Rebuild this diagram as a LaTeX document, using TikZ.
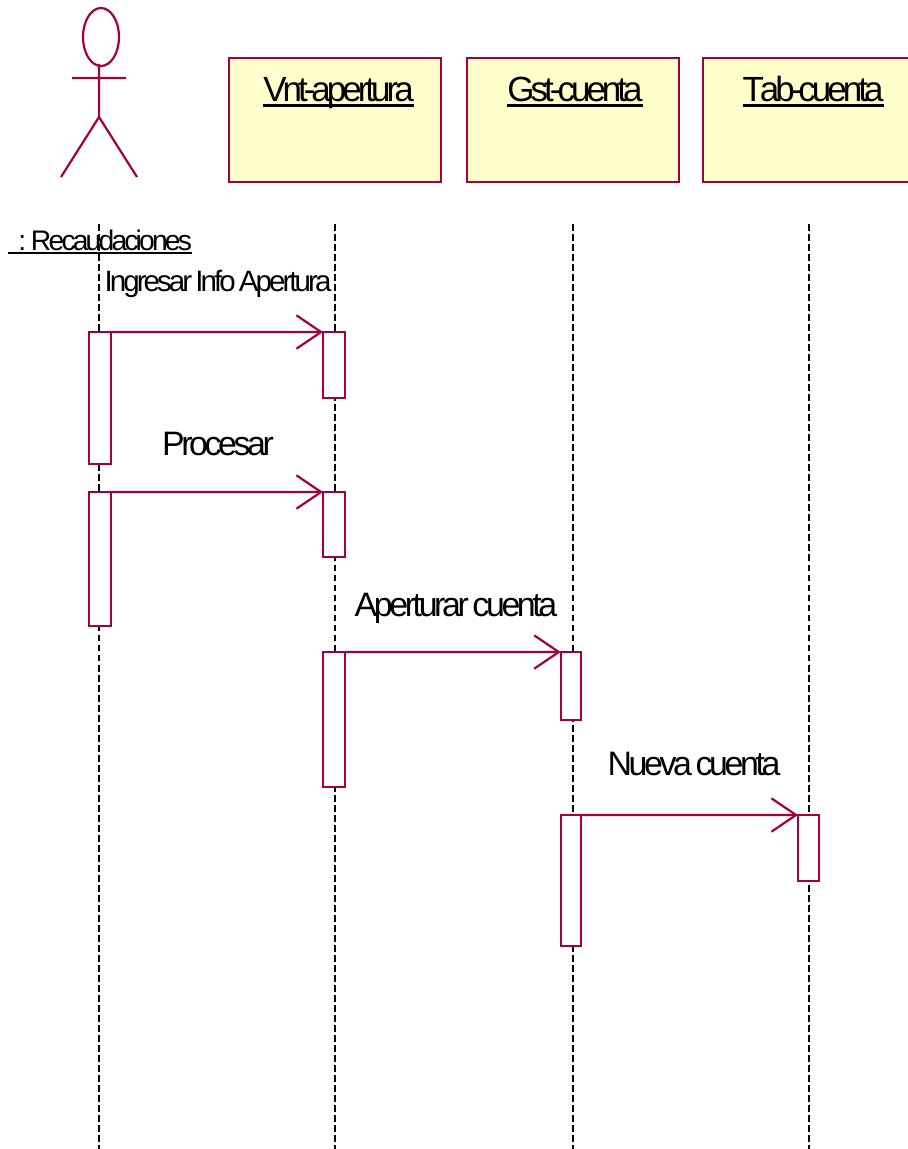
\documentclass[tikz,border=0pt]{standalone}
\usepackage{xcolor}
\usepackage{fontspec}
\usepackage{tikz}
\usetikzlibrary{positioning,shapes,arrows.meta}
\newfontfamily\umlfont[LetterSpace=-10,WordSpace=0.6]{Liberation Sans}
\newfontfamily\umlheadfont[LetterSpace=-11.4,Kerning=Off]{Liberation Sans}
\definecolor{rosered}{RGB}{165,0,62}
\definecolor{roseyellow}{RGB}{255,255,203}
\newcommand{\umlul}[1]{\setbox0\hbox{#1}\rlap{\rule[-0.13em]{\wd0}{1.2pt}}\box0}
\tikzset{
  classbox/.style={draw=rosered, line width=1.25pt, fill=roseyellow, minimum width=4.24cm, minimum height=2.48cm, inner sep=0pt, outer sep=0pt},
  classname/.style={anchor=base, inner sep=0pt, font=\umlheadfont\fontsize{19.9}{22}\selectfont},
  actbar/.style={draw=rosered, line width=1.25pt, fill=white, minimum width=0.44cm, inner sep=0pt, outer sep=0pt},
  msglabel/.style={anchor=base, inner sep=0pt, font=\umlfont\fontsize{19.3}{22}\selectfont},
  smalllabel/.style={anchor=base, inner sep=0pt, font=\umlfont\fontsize{16.8}{20}\selectfont},
  lifeline/.style={black, line width=1.25pt, dash pattern=on 3.9pt off 1.8pt},
  msgarrow/.style={rosered, line width=1.25pt, -{Straight Barb[length=14pt,width=19pt,line width=1.25pt]}}
}
\begin{document}
\begin{tikzpicture}[x=0.02cm,y=-0.02cm]
\useasboundingbox (0,0) rectangle (908,1149);

% actor
\draw[rosered, line width=1.25pt] (101,37) ellipse [x radius=18, y radius=29];
\draw[rosered, line width=1.25pt] (99,64) -- (99,117) (72,78) -- (126,78) (61,177) -- (99,117) -- (137,177);

% objects
\node[classbox] (vnt) at (335,120) {};
\node[classbox] (gst) at (573,120) {};
\node[classbox] (tab) at (809,120) {};
\node[classname] (vntname) at (338.5,102) {\umlul{Vnt-apertura}};
\node[classname] (gstname) at (575,102) {\umlul{Gst-cuenta}};
\node[classname] (tabname) at (813,102) {\umlul{Tab-cuenta}};

% lifelines
\coordinate (actortop) at (99,224);
\coordinate (vnttop) at (335,224);
\coordinate (gsttop) at (573,224);
\coordinate (tabtop) at (809,224);
\coordinate (actorend) at (99,1149);
\coordinate (vntend) at (335,1149);
\coordinate (gstend) at (573,1149);
\coordinate (tabend) at (809,1149);
\draw[lifeline] (actortop) -- (actorend);
\draw[lifeline] (vnttop) -- (vntend);
\draw[lifeline] (gsttop) -- (gstend);
\draw[lifeline] (tabtop) -- (tabend);

% activations
\node[actbar, minimum height=2.64cm] (actora) at (100,398) {};
\node[actbar, minimum height=2.68cm] (actorb) at (100,559) {};
\node[actbar, minimum height=1.32cm] (vnta) at (334,365) {};
\node[actbar, minimum height=1.30cm] (vntb) at (334,524.5) {};
\node[actbar, minimum height=2.70cm] (vntc) at (334,719.5) {};
\node[actbar, minimum height=1.36cm, minimum width=0.41cm] (gsta) at (571,686) {};
\node[actbar, minimum height=2.62cm, minimum width=0.41cm] (gstb) at (571,880.5) {};
\node[actbar, minimum height=1.32cm, minimum width=0.42cm] (taba) at (808.5,848) {};

% messages
\draw[msgarrow] (actora.north east) -- (vnta.north west);
\draw[msgarrow] (actorb.north east) -- (vntb.north west);
\draw[msgarrow] (vntc.north east) -- (gsta.north west);
\draw[msgarrow] (gstb.north east) -- (taba.north west);

% labels
\node[smalllabel, font=\umlfont\fontsize{16.1}{20}\selectfont] (actorname) at (100,250) {\umlul{\hspace{6pt}: Recaudaciones}};
\node[smalllabel] (ingresar) at (218,291) {Ingresar Info Apertura};
\node[msglabel] (procesar) at (218,455) {Procesar};
\node[msglabel] (aperturar) at (456,616) {Aperturar cuenta};
\node[msglabel] (nueva) at (694,775) {Nueva cuenta};
\end{tikzpicture}
\end{document}
